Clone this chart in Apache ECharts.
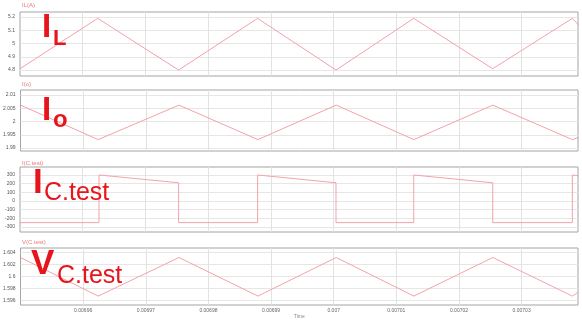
<!DOCTYPE html>
<html>
<head>
<meta charset="utf-8">
<script src="https://cdn.jsdelivr.net/npm/echarts@6/dist/echarts.min.js"></script>
<style>
  html, body { margin: 0; padding: 0; background: #fff; }
  #chart { width: 582px; height: 320px; }
</style>
</head>
<body>
<div id="chart"></div>
<script>
// time axis (seconds)
const xTicks = [0.00696, 0.00697, 0.00698, 0.00699, 0.007, 0.00701, 0.00702, 0.00703]

// inductor current
const ilTime = [0.006950, 0.0069624, 0.0069753, 0.0069879, 0.0070004, 0.0070128, 0.0070254, 0.0070381, 0.0070391]
const ilValue = [4.81, 5.19, 4.80, 5.19, 4.80, 5.19, 4.81, 5.19, 5.14]
const ilTicks = [4.8, 4.9, 5.0, 5.1, 5.2]

// output current
const ioTime = [0.006950, 0.0069624, 0.0069753, 0.0069879, 0.0070004, 0.0070128, 0.0070254, 0.0070381, 0.0070391]
const ioValue = [2.0062, 1.9932, 2.0062, 1.9932, 2.0062, 1.9932, 2.0062, 1.9932, 1.9940]
const ioTicks = [1.99, 1.995, 2, 2.005, 2.01]

// capacitor current (square-ish)
const icTime = [0.006950, 0.0069626, 0.0069626, 0.0069753, 0.0069753, 0.0069879, 0.0069879, 0.0070004, 0.0070004,
  0.0070128, 0.0070128, 0.0070254, 0.0070254, 0.0070381, 0.0070381, 0.0070391]
const icValue = [-250, -250, 300, 210, -250, -250, 300, 210, -250, -250, 300, 210, -250, -250, 300, 290]
const icTicks = [-300, -200, -100, 0, 100, 200, 300]

// capacitor voltage
const vcTime = [0.006950, 0.0069624, 0.0069753, 0.0069879, 0.0070004, 0.0070128, 0.0070254, 0.0070381, 0.0070391]
const vcValue = [1.6032, 1.5967, 1.6032, 1.5967, 1.6032, 1.5967, 1.6032, 1.5967, 1.5974]
const vcTicks = [1.596, 1.598, 1.6, 1.602, 1.604]

const trace = '#f2a2aa'
const red = '#e8141c'
const fmt = v => String(parseFloat((+v).toFixed(6)))

const panels = [
  { top: 12, height: 64, min: 4.755, max: 5.238, ticks: ilTicks, t: ilTime, v: ilValue },
  { top: 90, height: 61, min: 1.9889, max: 2.0119, ticks: ioTicks, t: ioTime, v: ioValue },
  { top: 167, height: 65, min: -358, max: 392, ticks: icTicks, t: icTime, v: icValue },
  { top: 248, height: 60, min: 1.5952, max: 1.6048, ticks: vcTicks, t: vcTime, v: vcValue },
]

const chart = echarts.init(document.getElementById('chart'), null, { renderer: 'canvas' })

const bigFont = 'bold 33px "Liberation Sans", Arial, sans-serif'
const subFont = '25px "Liberation Sans", Arial, sans-serif'
const tinyFont = '6px "Liberation Sans", Arial, sans-serif'

function txt(x, y, text, font, fill) {
  return { type: 'text', x, y, silent: true, z: 100,
    style: { text, font, fill, verticalAlign: 'middle', align: 'left' } }
}

chart.setOption({
  animation: false,
  backgroundColor: '#fff',
  grid: panels.map(p => ({
    left: 20, right: 4, top: p.top, height: p.height,
    show: true, borderColor: '#a4a4a4', borderWidth: 1, backgroundColor: '#fff',
  })),
  xAxis: panels.map((p, i) => ({
    type: 'value', gridIndex: i, min: 0.00695, max: 0.007039,
    axisLine: { show: false },
    axisTick: { show: false, customValues: xTicks },
    axisLabel: i === 3
      ? { show: true, customValues: xTicks, fontSize: 5, color: '#666', margin: 3, formatter: fmt }
      : { show: false, customValues: xTicks },
    splitLine: { show: true, lineStyle: { color: '#e2e2e2', width: 1 } },
    name: i === 3 ? 'Time' : '',
    nameLocation: 'middle', nameGap: 9,
    nameTextStyle: { fontSize: 5, color: '#888' },
  })),
  yAxis: panels.map((p, i) => ({
    type: 'value', gridIndex: i, min: p.min, max: p.max,
    axisLine: { show: false },
    axisTick: { show: false, customValues: p.ticks },
    axisLabel: { customValues: p.ticks, fontSize: 5, color: '#555', margin: 5, formatter: fmt },
    splitLine: { show: true, lineStyle: { color: '#e6e6e6', width: 1 } },
  })),
  series: panels.map((p, i) => ({
    type: 'line', xAxisIndex: i, yAxisIndex: i,
    data: p.t.map((t, k) => [t, p.v[k]]),
    symbol: 'none',
    lineStyle: { color: trace, width: 1 },
  })),
  graphic: [
    txt(22, 5, 'IL(A)', tinyFont, '#e87878'),
    txt(22, 84, 'I(o)', tinyFont, '#e87878'),
    txt(22, 163, 'I(C.test)', tinyFont, '#e87878'),
    txt(22, 242, 'V(C.test)', tinyFont, '#e87878'),
    txt(42, 28, 'I', bigFont, red),
    txt(53, 39, 'L', 'bold 22px "Liberation Sans", Arial, sans-serif', red),
    txt(42, 111, 'I', bigFont, red),
    txt(53, 120, 'o', 'bold 24px "Liberation Sans", Arial, sans-serif', red),
    txt(33, 183, 'I', 'bold 35px "Liberation Sans", Arial, sans-serif', red),
    txt(44, 193, 'C.test', subFont, red),
    txt(31, 264, 'V', 'bold 35px "Liberation Sans", Arial, sans-serif', red),
    txt(57, 276, 'C.test', subFont, red),
  ],
})
</script>
</body>
</html>
